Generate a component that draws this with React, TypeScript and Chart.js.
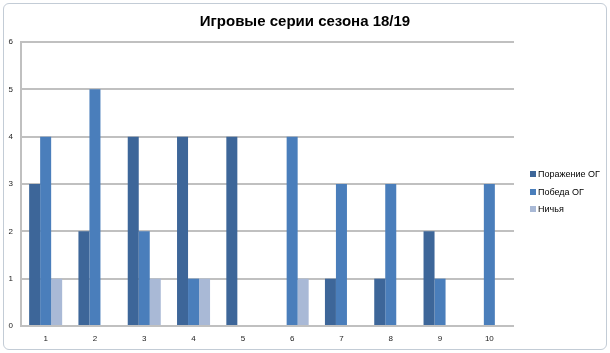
import React, { useEffect, useRef } from "react";
import { Chart, registerables } from "chart.js";

Chart.register(...registerables);

const categories = ["1", "2", "3", "4", "5", "6", "7", "8", "9", "10"];
const seriesLabels = ["Поражение ОГ", "Победа ОГ", "Ничья"];
const lossValues = [3, 2, 4, 4, 4, 0, 1, 1, 2, 0];
const winValues = [4, 5, 2, 1, 0, 4, 3, 3, 1, 3];
const drawValues = [1, 0, 1, 1, 0, 1, 0, 0, 0, 0];
const seriesColors = ["#3d6699", "#4a7ebb", "#a9b9d6"];
const titleText = "Игровые серии сезона 18/19";

export default function App() {
  const ref = useRef<HTMLCanvasElement | null>(null);

  useEffect(() => {
    document.body.style.margin = "0";
    const ctx = ref.current;
    if (!ctx) return;
    const chart = new Chart(ctx, {
      type: "bar",
      data: {
        labels: categories,
        datasets: [lossValues, winValues, drawValues].map((d, i) => ({
          label: seriesLabels[i],
          data: d,
          backgroundColor: seriesColors[i],
          borderWidth: 0,
          categoryPercentage: 0.67,
          barPercentage: 1,
        })),
      },
      options: {
        animation: false,
        responsive: false,
        maintainAspectRatio: false,
        layout: { padding: { left: 0, top: 42, right: 96, bottom: 0 } },
        plugins: {
          legend: { display: false },
          title: { display: false },
          tooltip: { enabled: false },
        },
        scales: {
          x: {
            grid: { display: false, drawTicks: false },
            border: { display: false },
            ticks: {
              padding: 8,
              color: "#222",
              font: { family: "Liberation Sans", size: 8 },
              maxRotation: 0,
            },
            afterFit: (s: any) => {
              s.height = 27;
            },
          },
          y: {
            min: 0,
            max: 6,
            ticks: {
              stepSize: 1,
              padding: 8,
              color: "#222",
              font: { family: "Liberation Sans", size: 8 },
            },
            grid: { color: "#c0c0c0", lineWidth: 2, drawTicks: false },
            border: { display: true, color: "#c0c0c0", width: 2 },
            afterFit: (s: any) => {
              s.width = 21;
            },
          },
        },
      },
    });
    return () => chart.destroy();
  }, []);

  return (
    <div
      style={{
        position: "fixed",
        left: 0,
        top: 0,
        width: 610,
        height: 353,
        background: "#ffffff",
        overflow: "hidden",
        fontFamily: "Liberation Sans, sans-serif",
      }}
    >
      <div
        style={{
          position: "absolute",
          left: 3,
          top: 3,
          width: 602,
          height: 345,
          border: "1px solid #c3ccd6",
          borderRadius: 6,
        }}
      />
      <canvas
        ref={ref}
        width={610}
        height={353}
        style={{ position: "absolute", left: 0, top: 0, width: 610, height: 353 }}
      />
      <div
        style={{
          position: "absolute",
          left: 0,
          width: 610,
          top: 12,
          textAlign: "center",
          paddingLeft: 0,
          fontWeight: "bold",
          fontSize: 15,
          color: "#000",
          whiteSpace: "nowrap",
        }}
      >
        {titleText}
      </div>
      {seriesLabels.map((l, i) => (
        <div
          key={l}
          style={{
            position: "absolute",
            left: 530,
            top: 168 + i * 17.5,
            height: 12,
            display: "flex",
            alignItems: "center",
            fontSize: 9,
            color: "#000",
            whiteSpace: "nowrap",
          }}
        >
          <span
            style={{
              display: "inline-block",
              width: 6,
              height: 6,
              background: seriesColors[i],
              marginRight: 2,
            }}
          />
          {l}
        </div>
      ))}
    </div>
  );
}
